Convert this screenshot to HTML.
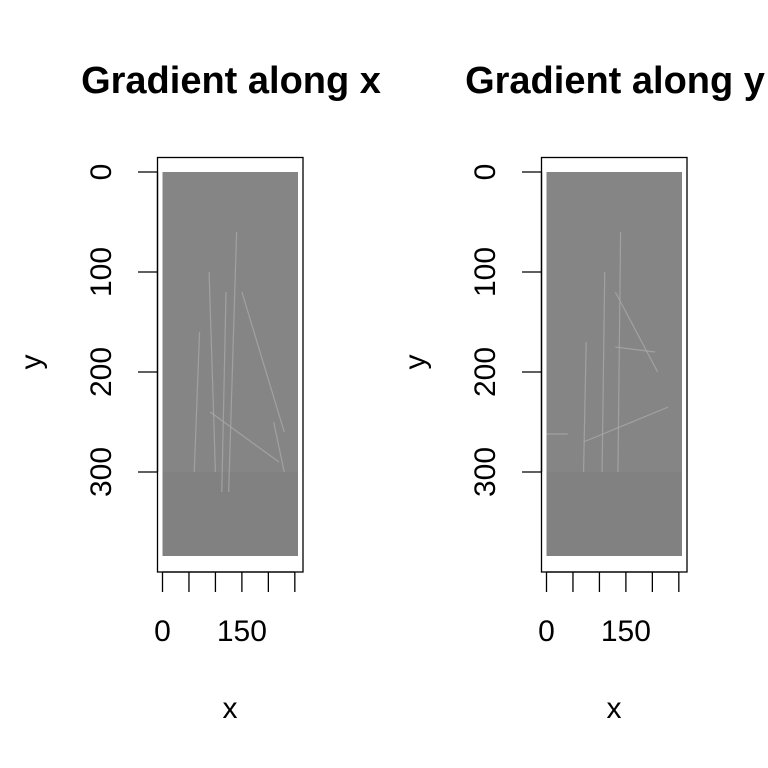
<!DOCTYPE html>
<html><head><meta charset="utf-8">
<style>
html,body{margin:0;padding:0;background:#fff;}
svg{display:block;font-family:"Liberation Sans",sans-serif;}
</style></head>
<body>
<svg id="chart" width="768" height="768" viewBox="0 0 768 768" xmlns="http://www.w3.org/2000/svg"></svg>
<script>
const panelTitles = ["Gradient along x", "Gradient along y"];
const xTicks = [0, 50, 100, 150, 200, 250];
const xTickLabels = ["0", "", "", "150", "", ""];
const yTicks = [0, 100, 200, 300];
const yTickLabels = ["0", "100", "200", "300"];
const imgWidth = 256;
const imgHeight = 384;

const NS = "http://www.w3.org/2000/svg";
const svg = document.getElementById("chart");
function mk(tag, attrs, parent) {
  const e = document.createElementNS(NS, tag);
  for (const k in attrs) e.setAttribute(k, attrs[k]);
  (parent || svg).appendChild(e);
  return e;
}
const offsets = [0, 384];
offsets.forEach((off, p) => {
  const g = mk("g", {});
  
  
  const sx = v => off + 162.5 + v * (135.5 / imgWidth);
  const sy = v => 172 + v * 1.0;
  const t = mk("text", {x: off + 231, y: 93, "text-anchor": "middle", "font-size": 38, "font-weight": "bold"}, g);
  t.textContent = panelTitles[p];
  
  
  const im = mk("rect", {x: sx(0), y: sy(0), width: sx(imgWidth) - sx(0), height: sy(imgHeight) - sy(0), fill: "#858585"}, g);
  
  
  const sea = mk("rect", {x: sx(0), y: sy(300), width: sx(imgWidth) - sx(0), height: sy(imgHeight) - sy(300), fill: "#818181"}, g);
  
  
  const strokes = p === 0 ?
    [[140,60,125,320],[88,100,100,300],[70,160,60,300],[120,120,112,320],[150,120,230,260],[210,250,230,300],[90,240,220,290]] :
    [[110,100,105,300],[140,60,135,300],[75,170,70,300],[130,175,205,180],[70,270,230,235],[0,262,40,262],[130,120,210,200]];
  strokes.forEach(s => {
    const l = mk("line", {x1: sx(s[0]), y1: sy(s[1]), x2: sx(s[2]), y2: sy(s[3]), stroke: "#a8a8a8", "stroke-width": 1.2, opacity: 0.8}, g);
    
    
  });
  const box = mk("rect", {x: off + 157.5, y: 157.5, width: 145.5, height: 414.5, fill: "none", stroke: "#000", "stroke-width": 1.3}, g);
  
  
  const xa = mk("g", {}, g);
  
  
  mk("line", {x1: sx(xTicks[0]), x2: sx(xTicks[xTicks.length - 1]), y1: 572, y2: 572, stroke: "#000", "stroke-width": 1.3}, xa);
  xTicks.forEach((v, i) => {
    const tk = mk("line", {x1: sx(v), x2: sx(v), y1: 572, y2: 592, stroke: "#000", "stroke-width": 1.3}, xa);
    
    
    if (xTickLabels[i]) {
      const tl = mk("text", {x: sx(v), y: 641, "text-anchor": "middle", "font-size": 30}, xa);
      tl.textContent = xTickLabels[i];
      
      
    }
  });
  const xt = mk("text", {x: off + 230, y: 718, "text-anchor": "middle", "font-size": 30}, g);
  xt.textContent = "x";
  
  
  const ya = mk("g", {}, g);
  
  
  mk("line", {x1: off + 157.5, x2: off + 157.5, y1: sy(yTicks[0]), y2: sy(yTicks[yTicks.length - 1]), stroke: "#000", "stroke-width": 1.3}, ya);
  yTicks.forEach((v, i) => {
    const tk = mk("line", {x1: off + 138, x2: off + 157.5, y1: sy(v), y2: sy(v), stroke: "#000", "stroke-width": 1.3}, ya);
    
    
    const tl = mk("text", {x: off + 111, y: sy(v), "text-anchor": "middle", "font-size": 30, transform: `rotate(-90 ${off + 111} ${sy(v)})`}, ya);
    tl.textContent = yTickLabels[i];
    
    
  });
  const yt = mk("text", {x: off + 41, y: 362, "text-anchor": "middle", "font-size": 30, transform: `rotate(-90 ${off + 41} 362)`}, g);
  yt.textContent = "y";
  
  
});
</script>
</body></html>
